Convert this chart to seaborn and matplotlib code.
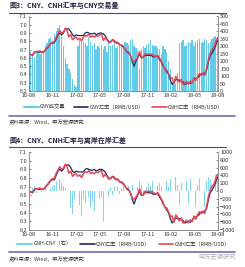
import matplotlib
matplotlib.use("Agg")
import matplotlib.pyplot as plt
import matplotlib.dates as mdates
from matplotlib.lines import Line2D
from matplotlib.ticker import FormatStrFormatter
import seaborn as sns
import pandas as pd

sns.set_style("white")
plt.rcParams['font.family'] = ['Noto Sans CJK SC', 'DejaVu Sans']

# weekly observations, Aug 2016 - Jul 2018
weeks = pd.date_range("2016-08-01", periods=105, freq="W-MON")

cny = [6.65, 6.64, 6.63, 6.66, 6.68,
       6.67, 6.67, 6.67, 6.67,
       6.69, 6.72, 6.74, 6.77, 6.78,
       6.78, 6.83, 6.88, 6.90,
       6.88, 6.90, 6.95, 6.95,
       6.95, 6.92, 6.88, 6.86, 6.88,
       6.87, 6.87, 6.87, 6.87,
       6.90, 6.91, 6.90, 6.89,
       6.89, 6.90, 6.88, 6.89,
       6.90, 6.90, 6.89, 6.87, 6.83,
       6.80, 6.79, 6.82, 6.80,
       6.78, 6.78, 6.76, 6.75, 6.73,
       6.71, 6.67, 6.66, 6.63,
       6.55, 6.50, 6.56, 6.60,
       6.65, 6.60, 6.61, 6.63, 6.63,
       6.63, 6.63, 6.62, 6.61,
       6.62, 6.62, 6.58, 6.55,
       6.50, 6.47, 6.43, 6.40, 6.33,
       6.28, 6.31, 6.34, 6.33,
       6.33, 6.32, 6.31, 6.28,
       6.29, 6.30, 6.29, 6.31, 6.34,
       6.35, 6.36, 6.38, 6.41,
       6.40, 6.42, 6.45, 6.55,
       6.63, 6.66, 6.70, 6.75, 6.81]

cnh = [6.656, 6.636, 6.638, 6.672, 6.674,
       6.675, 6.685, 6.667, 6.674,
       6.698, 6.715, 6.750, 6.776, 6.792,
       6.795, 6.855, 6.890, 6.930,
       6.900, 6.912, 6.958, 6.935,
       6.855, 6.880, 6.820, 6.840, 6.850,
       6.820, 6.835, 6.805, 6.850,
       6.870, 6.865, 6.885, 6.850,
       6.865, 6.850, 6.870, 6.860,
       6.880, 6.885, 6.812, 6.840, 6.820,
       6.785, 6.798, 6.810, 6.812,
       6.786, 6.790, 6.752, 6.755, 6.742,
       6.704, 6.678, 6.672, 6.625,
       6.565, 6.555, 6.580, 6.610,
       6.675, 6.615, 6.600, 6.648, 6.640,
       6.650, 6.642, 6.645, 6.625,
       6.612, 6.632, 6.600, 6.560,
       6.518, 6.455, 6.455, 6.410, 6.360,
       6.360, 6.290, 6.375, 6.345,
       6.305, 6.340, 6.280, 6.295,
       6.315, 6.280, 6.320, 6.295, 6.360,
       6.325, 6.375, 6.410, 6.390,
       6.420, 6.390, 6.475, 6.585,
       6.660, 6.705, 6.725, 6.790, 6.845]

volume = [240, 260, 250, 230, 260,
          270, 250, 260, 270,
          300, 320, 350, 360, 330,
          380, 400, 420, 440,
          380, 300, 220, 180,
          150, 120, 80, 40, 30,
          300, 340, 350, 330,
          320, 300, 360, 330,
          300, 320, 280, 300,
          290, 310, 280, 300, 260,
          320, 300, 310, 330,
          290, 300, 320, 310, 300,
          330, 320, 310, 340,
          350, 300, 290, 270,
          150, 280, 300, 290, 310,
          320, 340, 310, 300,
          300, 290, 280, 250,
          300, 280, 260, 200, 150,
          60, 70, 50, 120,
          320, 330, 340, 300,
          310, 330, 320, 340, 300,
          330, 340, 350, 320,
          330, 350, 340, 320,
          330, 350, 360, 370, 340]

spread = [60, -40, 80, 120, -60,
          50, 150, -30, 40,
          80, -50, 100, 60, 120,
          150, 250, 100, 300,
          200, 120, 80, -150,
          -950, -400, -600, -200, -300,
          -500, -350, -650, -200,
          -300, -450, -150, -400,
          -250, -500, -100, -300,
          -200, -150, -780, -300, -100,
          -150, 80, -100, 120,
          60, 100, -80, 50, 120,
          -60, 80, 120, -50,
          150, 550, 200, 100,
          250, 150, -100, 180, 100,
          200, 120, 250, 150,
          -80, 120, 200, 100,
          180, -150, 250, 100, 300,
          800, -200, 350, 150,
          -350, 200, -400, 150,
          250, -300, 300, -250, 200,
          -400, 150, 300, -300,
          200, -400, 250, 350,
          300, 450, 250, 400, 350]

df = pd.DataFrame({"date": weeks, "CNY": cny, "CNH": cnh,
                   "volume": volume, "spread": spread})

c_bar = "#62cbea"
c_spread = "#7fd3ee"
c_cny = "#1b2a6b"
c_cnh = "#e8474f"
c_sep = "#7a7ab8"

fig = plt.figure(figsize=(2.45, 2.67), dpi=100)
W, H = 245.0, 267.0


def fy(p):
    return 1 - p / H


def panel(top, bottom, bar_col, bar_color, bar_width, bar_lim, bar_ticks,
          leg_y, leg_labels):
    ax = fig.add_axes([29 / W, fy(bottom), 189 / W, (bottom - top) / H])
    ax2 = ax.twinx()
    ax2.bar(df["date"], df[bar_col], width=bar_width, color=bar_color, linewidth=0)
    ax2.set_ylim(*bar_lim)
    ax2.set_yticks(bar_ticks)
    sns.lineplot(data=df, x="date", y="CNY", ax=ax, color=c_cny, lw=0.9)
    sns.lineplot(data=df, x="date", y="CNH", ax=ax, color=c_cnh, lw=1.1)
    ax.set_zorder(ax2.get_zorder() + 1)
    ax.patch.set_visible(False)
    ax.set_ylim(6.2, 7.1)
    ax.set_yticks([6.2 + 0.1 * i for i in range(10)])
    ax.yaxis.set_major_formatter(FormatStrFormatter("%.1f"))
    ax.set_xlim(pd.Timestamp("2016-08-01"), pd.Timestamp("2018-08-01"))
    ax.xaxis.set_major_locator(mdates.MonthLocator(bymonth=[2, 5, 8, 11]))
    ax.xaxis.set_major_formatter(mdates.DateFormatter("%y-%m"))
    ax.set_xlabel("")
    ax.set_ylabel("")
    for a in (ax, ax2):
        for s in a.spines.values():
            s.set_color("#888888")
            s.set_linewidth(0.5)
        a.spines["top"].set_visible(False)
        a.tick_params(labelsize=4, colors="#333333", length=1.5, width=0.4,
                      direction="in", pad=1.5)
    handles = [Line2D([], [], color=bar_color, lw=1.5),
               Line2D([], [], color=c_cny, lw=1.2),
               Line2D([], [], color=c_cnh, lw=1.2)]
    fig.legend(handles, leg_labels, loc="center", bbox_to_anchor=(0.505, fy(leg_y)),
               ncol=3, frameon=False, fontsize=3.8, handlelength=2.8,
               handletextpad=0.2, columnspacing=1.6, labelcolor="#333333",
               borderpad=0, borderaxespad=0)
    return ax


def header(y_title, y_line, text):
    fig.text(9 / W, fy(y_title), text, fontsize=5, weight="bold",
             color="#222244", va="center")
    fig.add_artist(Line2D([9 / W, 226 / W], [fy(y_line)] * 2, color="#3b4aa0",
                          lw=0.8, transform=fig.transFigure))


def footer(y_line, y_src):
    fig.add_artist(Line2D([9 / W, 235 / W], [fy(y_line)] * 2, color=c_sep,
                          lw=1.3, transform=fig.transFigure))
    fig.text(9 / W, fy(y_src), "资料来源：Wind，申万宏源研究", fontsize=3.8,
             color="#333333", va="center")


header(5.5, 12.5, "图3：CNY、CNH汇率与CNY交易量")
panel(16.5, 91, "volume", c_bar, 5, (0, 500), list(range(0, 501, 50)), 107,
      ["CNY成交量", "CNY汇率（RMB/USD）", "CNH汇率（RMB/USD）"])
footer(116, 122.5)

header(140, 147, "图4：CNY、CNH汇率与离岸在岸汇差")
panel(152, 230, "spread", c_spread, 2.5, (-1000, 1000),
      list(range(-1000, 1001, 200)), 244,
      ["CNH-CNY（右）", "CNY汇率（RMB/USD）", "CNH汇率（RMB/USD）"])
footer(252, 259)
fig.text(236 / W, fy(257), "申万宏源研究", fontsize=4.5, color="#b0b0b0",
         ha="right", va="center")

fig.savefig("out.png", dpi=100)
